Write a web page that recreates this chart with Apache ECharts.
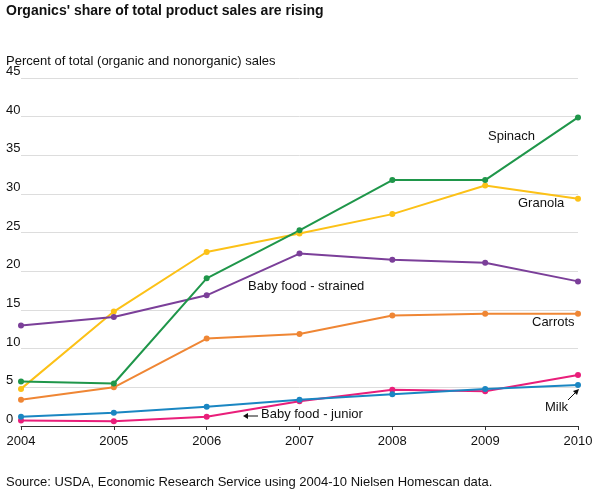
<!DOCTYPE html>
<html>
<head>
<meta charset="utf-8">
<script src="https://cdn.jsdelivr.net/npm/echarts@6/dist/echarts.min.js"></script>
<style>body{margin:0;background:#fff}#c{width:609px;height:499px}</style>
</head>
<body>
<div id="c"></div>
<script>
    var years = ['2004', '2005', '2006', '2007', '2008', '2009', '2010'];
    var spinach = [5.75, 5.5, 19.1, 25.3, 31.8, 31.8, 39.9];
    var granola = [4.8, 14.8, 22.5, 24.9, 27.4, 31.1, 29.4];
    var strained = [13.0, 14.1, 16.9, 22.3, 21.5, 21.1, 18.7];
    var carrots = [3.4, 5.0, 11.3, 11.9, 14.3, 14.5, 14.5];
    var junior = [0.7, 0.6, 1.2, 3.2, 4.7, 4.5, 6.6];
    var milk = [1.2, 1.7, 2.5, 3.4, 4.1, 4.8, 5.3];

    var font = 'Liberation Sans, Arial, sans-serif';

    // 生成折线系列
    function line(name, data, color) {
        return {
            name: name, type: 'line', data: data,
            symbol: 'circle', symbolSize: 6,
            lineStyle: { width: 2, color: color },
            itemStyle: { color: color },
            animation: false
        };
    }

    var chart = echarts.init(document.getElementById('c'));
    chart.setOption({
        textStyle: { fontFamily: font },
        grid: { left: 21, right: 31, top: 78, bottom: 73 },
        xAxis: {
            type: 'category', data: years, boundaryGap: false,
            axisLine: { lineStyle: { color: '#333' } },
            axisTick: { show: true, length: 4, lineStyle: { color: '#333' } },
            axisLabel: { color: '#111', fontSize: 13, margin: 9, fontFamily: font }
        },
        yAxis: {
            type: 'value', min: 0, max: 45, interval: 5,
            axisLine: { show: false }, axisTick: { show: false },
            splitLine: { lineStyle: { color: '#ddd' } },
            axisLabel: { color: '#111', fontSize: 13, margin: 15,
                         verticalAlign: 'bottom', fontFamily: font, align: 'left' }
        },
        series: [
            line('Granola', granola, '#fcc117'),
            line('Baby food - strained', strained, '#7b3f99'),
            line('Carrots', carrots, '#ef8634'),
            line('Spinach', spinach, '#1f964a'),
            line('Baby food - junior', junior, '#e91e7a'),
            line('Milk', milk, '#1a86c2')
        ],
        graphic: [
            { type: 'text', left: 6, top: 4, style: { text: "Organics' share of total product sales are rising", font: 'bold 14px ' + font, fill: '#111' } },
            { type: 'text', left: 6, top: 55, style: { text: 'Percent of total (organic and nonorganic) sales', font: '13px ' + font, fill: '#111' } },
            { type: 'text', left: 6, top: 476, style: { text: 'Source: USDA, Economic Research Service using 2004-10 Nielsen Homescan data.', font: '13px ' + font, fill: '#111' } },
            { type: 'text', left: 488, top: 130, style: { text: 'Spinach', font: '13px ' + font, fill: '#111' } },
            { type: 'text', left: 518, top: 197, style: { text: 'Granola', font: '13px ' + font, fill: '#111' } },
            { type: 'text', left: 248, top: 280, style: { text: 'Baby food - strained', font: '13px ' + font, fill: '#111' } },
            { type: 'text', left: 532, top: 316, style: { text: 'Carrots', font: '13px ' + font, fill: '#111' } },
            { type: 'text', left: 261, top: 408, style: { text: 'Baby food - junior', font: '13px ' + font, fill: '#111' } },
            { type: 'text', left: 545, top: 401, style: { text: 'Milk', font: '13px ' + font, fill: '#111' } },
            { type: 'line', shape: { x1: 258, y1: 416, x2: 246, y2: 416 }, style: { stroke: '#111', lineWidth: 1 } },
            { type: 'polygon', shape: { points: [[243, 416], [248, 413], [248, 419]] }, style: { fill: '#111' } },
            { type: 'line', shape: { x1: 568, y1: 400, x2: 577, y2: 391 }, style: { stroke: '#111', lineWidth: 1 } },
            { type: 'polygon', shape: { points: [[579, 389], [573, 391], [577, 395]] }, style: { fill: '#111' } }
        ]
    });
</script>
</body>
</html>
